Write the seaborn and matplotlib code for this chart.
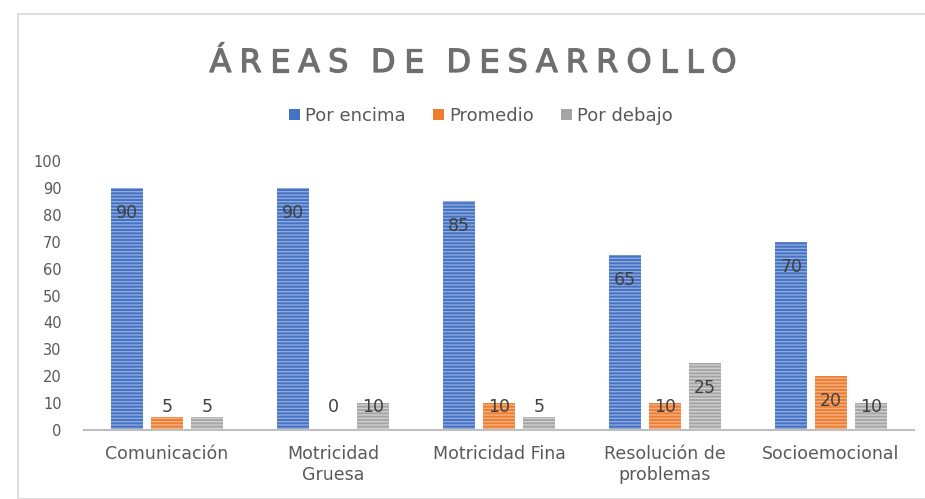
import matplotlib
matplotlib.use("Agg")
import matplotlib.pyplot as plt
import matplotlib.patheffects as pe
import seaborn as sns
import pandas as pd
from matplotlib.patches import Rectangle, Patch

categories = ["Comunicación", "Motricidad\nGruesa", "Motricidad Fina", "Resolución de\nproblemas", "Socioemocional"]
por_encima = [90, 90, 85, 65, 70]
promedio = [5, 0, 10, 10, 20]
por_debajo = [5, 10, 5, 25, 10]
series = ["Por encima", "Promedio", "Por debajo"]
title = "ÁREAS DE DESARROLLO"
colors = ["#4472C4", "#ED7D31", "#A5A5A5"]
hatch_colors = ["#8FAADC", "#F4B183", "#D0D0D0"]

rows = []
for s, vals in zip(series, [por_encima, promedio, por_debajo]):
    for c, v in zip(categories, vals):
        rows.append({"cat": c, "serie": s, "valor": v})
df = pd.DataFrame(rows)

sns.set_theme(style="white")
plt.rcParams['font.family'] = ['DejaVu Sans']
plt.rcParams['hatch.linewidth'] = 1.0

W, H = 925, 499
fig = plt.figure(figsize=(W / 100, H / 100), dpi=100)
fig.patches.append(Rectangle((18 / W, 0), 1, 1 - 14 / H, transform=fig.transFigure,
                             fill=False, edgecolor="#D9D9D9", linewidth=1.2))
ax = fig.add_axes([84 / W, 1 - 430 / H, 830 / W, (430 - 161) / H])

sns.barplot(data=df, x="cat", y="valor", hue="serie", hue_order=series,
            palette=colors, width=0.72, gap=0.2, ax=ax, legend=False,
            saturation=1, errorbar=None)

for cont, hc in zip(ax.containers, hatch_colors):
    for bar in cont:
        bar.set_hatch("-----")
        bar.set_edgecolor(hc)
        bar.set_linewidth(0)

for cont, vals in zip(ax.containers, [por_encima, promedio, por_debajo]):
    for bar, v in zip(cont, vals):
        cx = bar.get_x() + bar.get_width() / 2
        y = max(v - 9.3, 8.5)
        ax.text(cx, y, f"{v}", ha="center", va="center", fontsize=12.5, color="#404040")

ax.set_ylim(0, 100)
ax.set_xlim(-0.5, 4.5)
ax.set_yticks(range(0, 101, 10))
ax.set_xlabel("")
ax.set_ylabel("")
for sp in ["top", "right", "left"]:
    ax.spines[sp].set_visible(False)
ax.spines["bottom"].set_color("#BFBFBF")
ax.spines["bottom"].set_linewidth(1.5)
ax.tick_params(axis="y", length=0, labelsize=10.5, labelcolor="#595959", pad=16)
ax.tick_params(axis="x", length=0, labelsize=12.5, labelcolor="#595959", pad=11)

# Letter-spaced title
renderer = fig.canvas.get_renderer()
fs = 23
tcolor = "#6F6F6F"
tfont = dict(fontsize=fs, family=["DejaVu Sans"])
def char_w(ch):
    if ch == " ":
        return fs * 100 / 72 * 0.2
    t = fig.text(0, 0, ch, **tfont)
    w = t.get_window_extent(renderer).width
    t.remove()
    return w
widths = [char_w(ch) for ch in title]
target = 527.0
extra = (target - sum(widths)) / (len(title) - 1)
x = 473.0 - target / 2
for ch, w in zip(title, widths):
    if ch != " ":
        fig.text(x / W, 1 - 72 / H, ch, ha="left", va="baseline", color=tcolor,
                 path_effects=[pe.withStroke(linewidth=0.9, foreground=tcolor)], **tfont)
    x += w + extra

handles = [Patch(facecolor=c, edgecolor="none") for c in colors]
fig.legend(handles, series, loc="center", bbox_to_anchor=(481 / W, 1 - 116 / H),
           ncol=3, frameon=False, fontsize=13, labelcolor="#595959",
           handlelength=0.6, handleheight=0.6, handletextpad=0.3, columnspacing=1.5)

fig.savefig("out.png", dpi=100)
